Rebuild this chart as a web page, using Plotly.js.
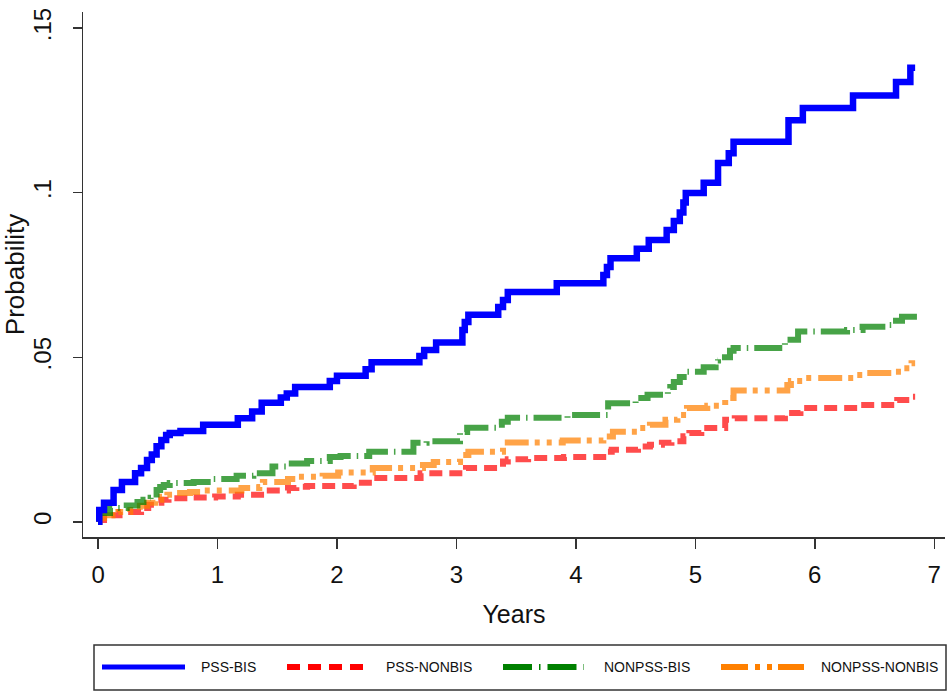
<!DOCTYPE html>
<html>
<head>
<meta charset="utf-8">
<script src="https://cdn.plot.ly/plotly-3.0.1.min.js"></script>
<style>
html,body{margin:0;padding:0;background:#fff;}
#chart{width:952px;height:693px;}
</style>
</head>
<body>
<div id="chart"></div>
<script>
// ---- data ----
const seriesNames = ['PSS-BIS', 'PSS-NONBIS', 'NONPSS-BIS', 'NONPSS-NONBIS'];

const pssBisYears = [0,0.01,0.05,0.13,0.2,0.31,0.36,0.41,0.45,0.49,0.53,0.57,0.6,0.69,0.88,1.17,1.29,1.37,1.53,1.58,1.65,1.94,2.0,2.24,2.29,2.69,2.73,2.83,3.05,3.07,3.1,3.35,3.39,3.43,3.84,4.23,4.26,4.29,4.51,4.61,4.76,4.82,4.87,4.9,4.92,5.07,5.19,5.28,5.32,5.78,5.9,6.32,6.68,6.8,6.84];
const pssBisProb = [0,0.0036,0.0058,0.0097,0.0121,0.0148,0.0164,0.0188,0.0205,0.023,0.0249,0.0264,0.027,0.0276,0.0295,0.0315,0.0335,0.0362,0.0378,0.039,0.041,0.0428,0.0444,0.0464,0.0485,0.0504,0.0522,0.0545,0.0583,0.0607,0.0629,0.0653,0.0674,0.0698,0.0725,0.075,0.0774,0.0801,0.083,0.0856,0.0887,0.0914,0.094,0.097,0.0999,0.103,0.109,0.112,0.1155,0.122,0.1257,0.1295,0.1336,0.138,0.138];

const pssNonbisYears = [0,0.01,0.05,0.1,0.18,0.36,0.42,0.47,0.53,0.59,0.8,0.98,1.17,1.41,1.59,1.66,1.75,2.14,2.3,2.7,3.08,3.39,3.43,3.6,3.9,4.26,4.3,4.52,4.62,4.72,4.8,4.9,4.95,5.05,5.25,5.33,5.75,5.88,6.37,6.69,6.8,6.84];
const pssNonbisProb = [0,0.0006,0.0012,0.002,0.003,0.0042,0.0052,0.0058,0.0067,0.0072,0.0074,0.0077,0.0082,0.0095,0.0103,0.0107,0.0109,0.0119,0.0133,0.0148,0.0164,0.0183,0.019,0.0194,0.0197,0.0213,0.0219,0.0229,0.0234,0.024,0.0245,0.026,0.027,0.0285,0.031,0.0315,0.0331,0.0346,0.0355,0.037,0.038,0.038];

const nonpssBisYears = [0,0.01,0.1,0.24,0.33,0.38,0.44,0.49,0.52,0.55,0.6,0.8,0.96,1.16,1.3,1.46,1.58,1.75,1.94,2.03,2.27,2.64,2.75,3.03,3.09,3.34,3.38,3.43,3.93,4.27,4.5,4.6,4.77,4.79,4.82,4.87,4.93,5.07,5.17,5.19,5.29,5.32,5.75,5.86,6.27,6.4,6.6,6.68,6.73,6.83,6.85];
const nonpssBisProb = [0,0.0027,0.0042,0.005,0.006,0.0067,0.0073,0.0097,0.0106,0.0112,0.0118,0.0121,0.013,0.014,0.0148,0.0168,0.0177,0.0185,0.0197,0.020,0.0213,0.024,0.0245,0.0273,0.0286,0.0295,0.0304,0.0316,0.0325,0.036,0.0376,0.0386,0.0396,0.041,0.0425,0.044,0.0456,0.047,0.049,0.050,0.052,0.0528,0.0553,0.0578,0.0583,0.0593,0.0598,0.0611,0.0623,0.0639,0.0639];

const nonpssNonbisYears = [0,0.01,0.05,0.17,0.27,0.35,0.41,0.48,0.53,0.58,0.63,0.77,0.87,1.2,1.35,1.38,1.59,1.68,1.88,2.01,2.3,2.72,2.81,3.03,3.1,3.39,3.43,3.89,4.23,4.31,4.52,4.62,4.75,4.85,4.93,5.1,5.25,5.32,5.77,5.8,5.9,6.33,6.4,6.66,6.74,6.81,6.84];
const nonpssNonbisProb = [0,0.0012,0.002,0.003,0.0036,0.0049,0.0058,0.0067,0.0076,0.0082,0.0088,0.0091,0.0095,0.0103,0.0106,0.0121,0.013,0.0137,0.014,0.015,0.0164,0.0173,0.0182,0.0203,0.0213,0.0228,0.0241,0.0247,0.0259,0.0274,0.0285,0.0295,0.031,0.0325,0.0346,0.0353,0.0376,0.0399,0.0416,0.0428,0.0437,0.0446,0.0452,0.0456,0.0467,0.0482,0.0482];

const xTickVals = [0,1,2,3,4,5,6,7];
const xTickText = ['0','1','2','3','4','5','6','7'];
const yTickVals = [0,0.05,0.1,0.15];
const yTickText = ['0','.05','.1','.15'];

// ---- styles ----
const FONT = 'Liberation Sans, Arial, Helvetica, sans-serif';
const lineColors = ['#0000FF','rgba(255,0,0,0.7)','rgba(0,128,0,0.72)','rgba(255,128,0,0.72)'];
const legendColors = ['#0000FF','#FF0000','#008000','#FF8000'];
const dashes = ['solid','13px,7px','28px,6px,1.5px,6px','24px,6px,5px,7px,5px,7px'];
const legendDashes = ['solid','13px,8px','29px,7px,1.5px,7px','27px,7px,5px,7px,5px,6px'];
const widths = [6.5,6,6,6];

const xs = [pssBisYears, pssNonbisYears, nonpssBisYears, nonpssNonbisYears];
const ys = [pssBisProb, pssNonbisProb, nonpssBisProb, nonpssNonbisProb];

// draw order: lower curves first, blue on top
const order = [1,3,2,0];
const traces = order.map(i => ({
  type:'scatter', mode:'lines', name: seriesNames[i],
  x: xs[i], y: ys[i],
  line:{shape:'hv', color: lineColors[i], width: widths[i], dash: dashes[i]},
  showlegend:false, hoverinfo:'skip'
}));

// ---- layout geometry ----
const W = 952, H = 693;
const M = {l:83, r:7, t:12, b:156};
const PW = W - M.l - M.r, PH = H - M.t - M.b;
const pxX = p => (p - M.l) / PW;
const pxY = p => (H - M.b - p) / PH;

// custom legend (Stata style box at bottom)
const legBox = {x0:94, x1:946, y0:645, y1:690};
const legSampleX = [[102,185],[287,367],[503,584],[721,804]];
const legTextX = [199,384,602,819];
const legY = 667;
const legendWidths = [5,6,6,6];

const shapes = [{
  type:'rect', xref:'paper', yref:'paper',
  x0:pxX(legBox.x0), x1:pxX(legBox.x1), y0:pxY(legBox.y1), y1:pxY(legBox.y0),
  line:{color:'#333', width:1.5}, fillcolor:'rgba(0,0,0,0)'
}];
const annotations = [];
seriesNames.forEach((nm, i) => {
  shapes.push({
    type:'line', xref:'paper', yref:'paper',
    x0:pxX(legSampleX[i][0]), x1:pxX(legSampleX[i][1]), y0:pxY(legY), y1:pxY(legY),
    line:{color:legendColors[i], width:legendWidths[i], dash:legendDashes[i]}
  });
  annotations.push({
    xref:'paper', yref:'paper', x:pxX(legTextX[i]), y:pxY(legY),
    xanchor:'left', yanchor:'middle', showarrow:false, text:nm,
    font:{family:FONT, size:14, color:'#111'}
  });
});

const layout = {
  width:W, height:H,
  margin:{l:M.l, r:M.r, t:M.t, b:M.b, pad:0},
  paper_bgcolor:'#fff', plot_bgcolor:'#fff',
  showlegend:false,
  font:{family:FONT, color:'#111'},
  xaxis:{
    range:[-0.126, 7.09], tickvals:xTickVals, ticktext:xTickText,
    ticks:'outside', ticklen:10, tickwidth:1.5, tickcolor:'#333',
    showline:true, linecolor:'#333', linewidth:1.5,
    showgrid:false, zeroline:false, automargin:false,
    tickfont:{family:FONT, size:24, color:'#111'},
    ticklabelstandoff:6,
    title:{text:'Years', font:{family:FONT, size:25, color:'#111'}, standoff:18}
  },
  yaxis:{
    range:[-0.0046, 0.1549], tickvals:yTickVals, ticktext:yTickText,
    tickangle:-90,
    ticks:'outside', ticklen:9, tickwidth:1.5, tickcolor:'#333',
    showline:true, linecolor:'#333', linewidth:1.5,
    showgrid:false, zeroline:false, automargin:false,
    tickfont:{family:FONT, size:24, color:'#111'},
    ticklabelstandoff:12,
    title:{text:'Probability', font:{family:FONT, size:26, color:'#111'}, standoff:16}
  },
  shapes: shapes,
  annotations: annotations
};

Plotly.newPlot('chart', traces, layout, {displayModeBar:false, staticPlot:true});
</script>
</body>
</html>
